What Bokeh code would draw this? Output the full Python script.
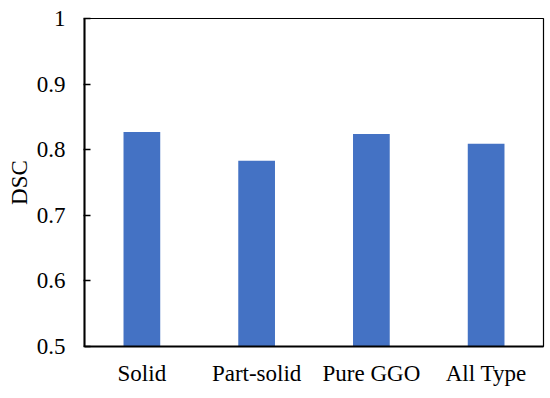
from bokeh.plotting import figure
from bokeh.models import FixedTicker, NumeralTickFormatter, ColumnDataSource
from bokeh.embed import file_html
from bokeh.resources import INLINE

categories = ["Solid", "Part-solid", "Pure GGO", "All Type"]
dsc_values = [0.827, 0.783, 0.824, 0.809]
y_ticks = [0.5, 0.6, 0.7, 0.8, 0.9, 1.0]

source = ColumnDataSource(data=dict(cat=categories, val=dsc_values))

p = figure(x_range=categories, y_range=(0.5, 1.0), width=548, height=396,
           output_backend="svg", toolbar_location=None,
           min_border_left=84, min_border_top=18, min_border_right=5, min_border_bottom=50)

p.vbar(x="cat", top="val", bottom=0.5, width=0.32, source=source,
       fill_color="#4472C4", line_color=None)

font = "Liberation Serif"
p.xgrid.grid_line_color = None
p.ygrid.grid_line_color = None
p.outline_line_color = "black"
p.outline_line_width = 1.2

p.yaxis.ticker = FixedTicker(ticks=y_ticks)
p.yaxis.formatter = NumeralTickFormatter(format="0.[0]")
p.yaxis.axis_label = "DSC"
p.yaxis.axis_label_text_font = font
p.yaxis.axis_label_text_font_style = "normal"
p.yaxis.axis_label_text_font_size = "23px"
p.yaxis.axis_label_text_color = "black"
p.yaxis.axis_label_standoff = 2
p.yaxis.major_label_text_font = font
p.yaxis.major_label_text_font_size = "23px"
p.yaxis.major_label_text_color = "black"
p.yaxis.major_label_standoff = 18
p.yaxis.major_tick_in = 6
p.yaxis.major_tick_out = 1
p.yaxis.minor_tick_line_color = None
p.yaxis.axis_line_width = 2
p.yaxis.axis_line_color = "black"
p.yaxis.major_tick_line_color = "black"
p.yaxis.major_tick_line_width = 1.5

p.xaxis.major_label_text_font = font
p.xaxis.major_label_text_font_size = "23px"
p.xaxis.major_label_text_color = "black"
p.xaxis.major_tick_line_color = None
p.xaxis.major_label_standoff = 8
p.xaxis.axis_line_width = 2
p.xaxis.axis_line_color = "black"

p.background_fill_color = "white"
p.border_fill_color = "white"

open("out.html", "w").write(file_html(p, INLINE))
